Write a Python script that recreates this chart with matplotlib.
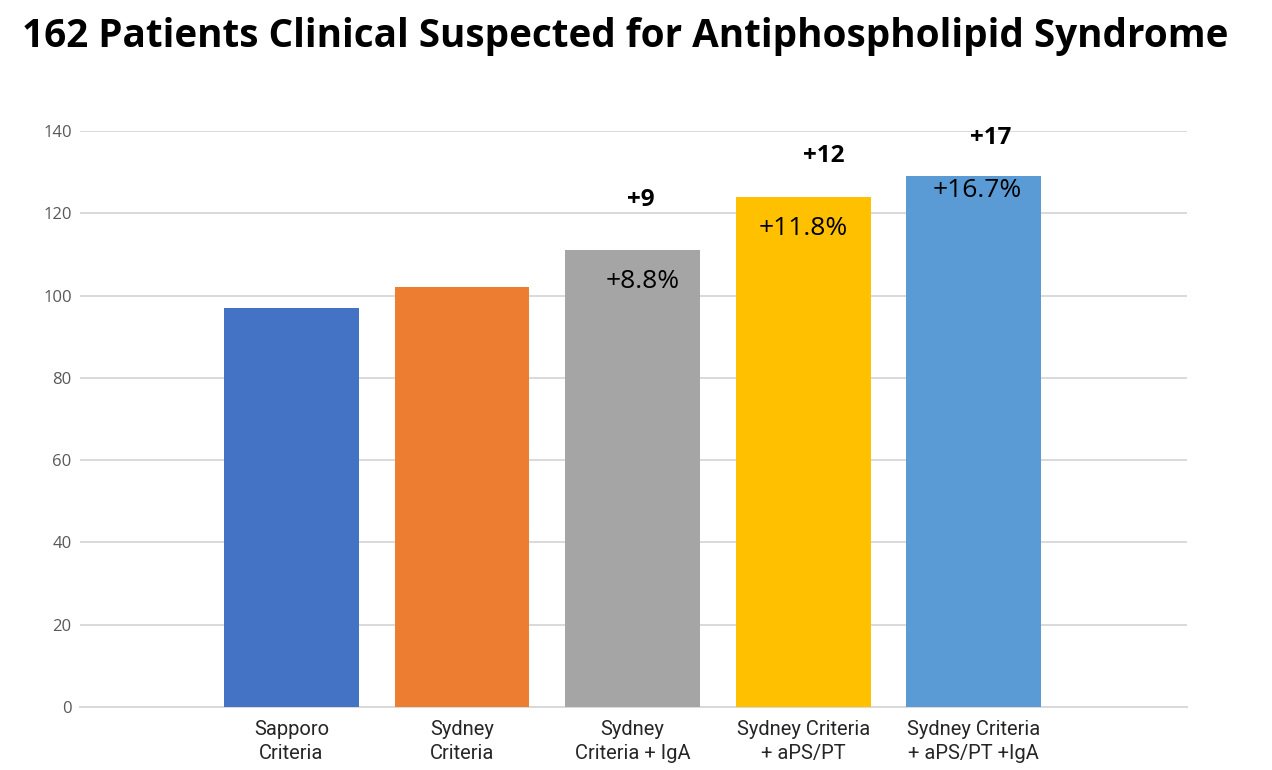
import matplotlib
matplotlib.use("Agg")
import matplotlib.pyplot as plt

title = "162 Patients Clinical Suspected for Antiphospholipid Syndrome"
categories = ["Sapporo\nCriteria", "Sydney\nCriteria", "Sydney\nCriteria + IgA",
              "Sydney Criteria\n+ aPS/PT", "Sydney Criteria\n+ aPS/PT +IgA"]
values = [97, 102, 111, 124, 129]
colors = ["#4472C4", "#ED7D31", "#A5A5A5", "#FFC000", "#5B9BD5"]
increase_labels = ["", "", "+9", "+12", "+17"]
percent_labels = ["", "", "+8.8%", "+11.8%", "+16.7%"]
yticks = [0, 20, 40, 60, 80, 100, 120, 140]

fig = plt.figure(figsize=(12.72, 7.70), dpi=100)
ax = fig.add_axes([0.0629, 0.0818, 0.8703, 0.748])

x = list(range(len(categories)))
ax.bar(x, values, width=0.79, color=colors, zorder=3)

ax.set_xlim(-1.24, 5.25)
ax.set_ylim(0, 140)
ax.set_yticks(yticks)
ax.set_yticklabels([str(t) for t in yticks], fontsize=12, color="#595959",
                   family=["Open Sans", "DejaVu Sans"])
ax.yaxis.grid(True, color="#D9D9D9", linewidth=1.4, zorder=0)
ax.set_axisbelow(True)
ax.tick_params(axis="y", length=0, pad=6)
ax.tick_params(axis="x", length=0, pad=9)
ax.set_xticks(x)
ax.set_xticklabels(categories, fontsize=14.5, color="#262626",
                   family=["Liberation Sans Narrow", "Roboto", "DejaVu Sans"], linespacing=1.38)
for s in ["top", "right", "left"]:
    ax.spines[s].set_visible(False)
ax.spines["bottom"].set_color("#D9D9D9")
ax.spines["bottom"].set_linewidth(1.4)

# annotations
inc_y = [0, 0, 123.2, 133.9, 138.3]
inc_dx = [0, 0, 0.05, 0.12, 0.10]
pct_y = [0, 0, 103.5, 116.4, 125.6]
pct_dx = [0, 0, 0.06, 0.0, 0.02]
for i in range(len(categories)):
    if increase_labels[i]:
        ax.text(x[i] + inc_dx[i], inc_y[i], increase_labels[i], ha="center", va="center",
                fontsize=17.5, fontweight="bold", color="black",
                family=["Open Sans", "DejaVu Sans"], clip_on=False, zorder=5)
    if percent_labels[i]:
        ax.text(x[i] + pct_dx[i], pct_y[i], percent_labels[i], ha="center", va="center",
                fontsize=19, color="black",
                family=["Open Sans", "DejaVu Sans"], clip_on=False, zorder=5)

fig.text(0.0175, 0.953, title, ha="left", va="center", fontsize=27.8, fontweight="bold",
         family=["Open Sans", "DejaVu Sans"])

fig.savefig("out.png", dpi=100)
